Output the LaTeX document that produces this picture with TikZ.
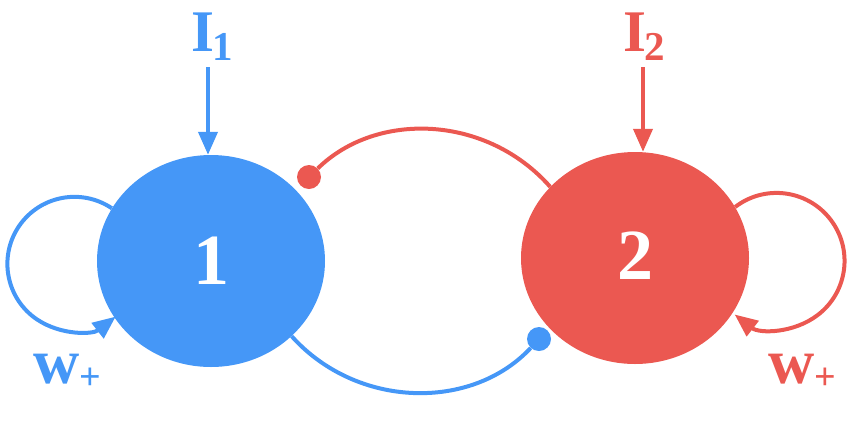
\documentclass[tikz,border=0pt]{standalone}
\usepackage{fontspec}
\setmainfont{Liberation Serif}
\usetikzlibrary{shapes.geometric,arrows.meta}
\definecolor{cblue}{RGB}{69,151,247}
\definecolor{cred}{RGB}{235,88,81}
\tikzset{
  pop/.style={ellipse, minimum width=228pt, minimum height=212pt, inner sep=0pt,
    text=white, font=\fontsize{72}{72}\selectfont\bfseries},
  link/.style={line width=4pt},
  arr/.style={line width=4pt, -{Triangle[length=23pt,width=19pt]}},
  dot/.style={circle, inner sep=0pt, minimum size=24pt},
  lbl/.style={inner sep=0pt, anchor=base west, font=\bfseries},
}
\begin{document}
\begin{tikzpicture}[x=1pt,y=-1pt]
\useasboundingbox (0,0) rectangle (860,432);
% populations
\node[pop, fill=cblue] (c1) at (211,261) {1};
\node[pop, fill=cred] (c2) at (635,258) {\raisebox{4pt}{2}};
% inputs
\node[lbl, text=cblue] (i1) at (191,51)
  {\fontsize{59}{59}\selectfont I\kern-2pt\raisebox{-9pt}{\fontsize{41}{41}\selectfont 1}};
\node[lbl, text=cred] (i2) at (623,51)
  {\fontsize{59}{59}\selectfont I\kern-2pt\raisebox{-9pt}{\fontsize{41}{41}\selectfont 2}};
\coordinate (a1) at (208,67);
\coordinate (a2) at (643,67);
\draw[arr, cblue] (a1) -- (a1 |- c1.north);
\draw[arr, cred] (a2) -- (a2 |- c2.north);
% inhibitory links
\node[dot, fill=cred] (d1) at (309,177) {};
\node[dot, fill=cblue] (d2) at (539,339) {};
\draw[link, cred] (c2.140) .. controls (487,115) and (377,110.5) .. (d1);
\draw[link, cblue] (c1.-43) .. controls (357,409) and (472,411) .. (d2);
% self loops
\draw[arr, cblue] (c1.152) arc[start angle=-56, end angle=-308, radius=67];
\draw[arr, cred] (c2.27) arc[start angle=-127.5, end angle=128, radius=68];
\node[lbl, text=cblue] (w1) at (33,383)
  {\fontsize{64}{64}\selectfont w\raisebox{-6pt}{\fontsize{38}{38}\selectfont +}};
\node[lbl, text=cred] (w2) at (768,383)
  {\fontsize{64}{64}\selectfont w\raisebox{-6pt}{\fontsize{38}{38}\selectfont +}};
\end{tikzpicture}
\end{document}
